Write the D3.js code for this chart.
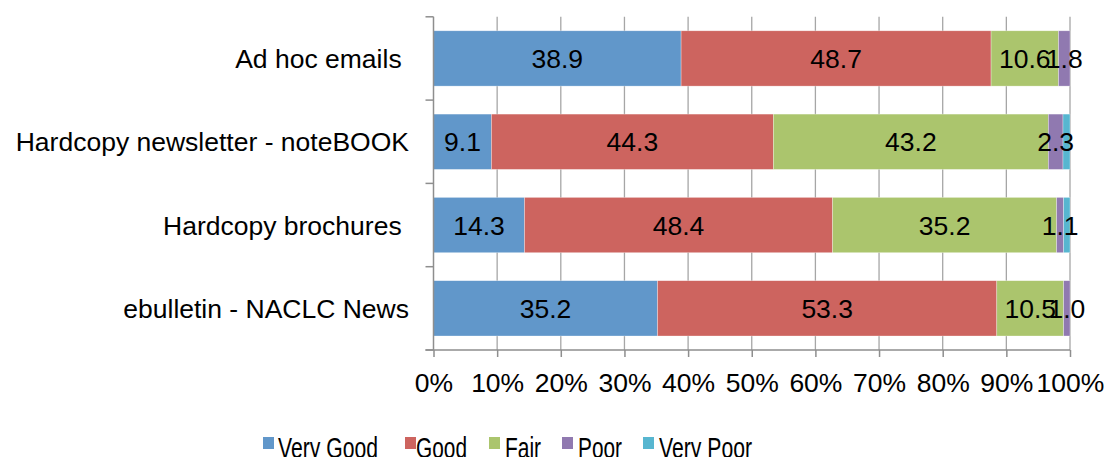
<!DOCTYPE html>
<html>
<head>
<meta charset="utf-8">
<script src="https://cdn.jsdelivr.net/npm/d3@7"></script>
<style>
  html, body { margin: 0; padding: 0; background: #fff; }
  svg { display: block; font-family: "Liberation Sans", Arial, sans-serif; }
  .cat { white-space: pre; }
</style>
</head>
<body>
<svg id="chart" width="1105" height="457"></svg>
<script>
// Rating of communication channels (percent of respondents)
const categories = [
  "Ad hoc emails ",
  "Hardcopy newsletter - noteBOOK",
  "Hardcopy brochures ",
  "ebulletin - NACLC News"
];
const seriesNames = ["Very Good", "Good", "Fair", "Poor", "Very Poor"];
const veryGood = [38.9, 9.1, 14.3, 35.2];
const good     = [48.7, 44.3, 48.4, 53.3];
const fair     = [10.6, 43.2, 35.2, 10.5];
const poor     = [1.8, 2.3, 1.1, 1.0];
const veryPoor = [0, 1.1, 1.0, 0];
const xTicks = [0, 10, 20, 30, 40, 50, 60, 70, 80, 90, 100];
// data labels are printed for every series except the last
const labelled = [true, true, true, true, false];

const colors = ["#6197ca", "#cd645f", "#abc56d", "#9079b0", "#57b6d0"];

const rows = categories.map((c, i) => ({
  category: c,
  "Very Good": veryGood[i],
  "Good": good[i],
  "Fair": fair[i],
  "Poor": poor[i],
  "Very Poor": veryPoor[i]
}));

const svg = d3.select("#chart");
const plot = { left: 433.5, right: 1070, top: 16.8, bottom: 350 };
const fontSize = 26.5;

const x = d3.scaleLinear().domain([0, 100]).range([plot.left, plot.right]);
const y = d3.scaleBand()
  .domain(categories)
  .range([plot.top, plot.bottom])
  .paddingInner(0.336)
  .paddingOuter(0.168);

const axisColor = "#8e8e8e";

// vertical gridlines
svg.append("g")
  .selectAll("line")
  .data(xTicks.slice(1))
  .join("line")
  .attr("x1", d => x(d)).attr("x2", d => x(d))
  .attr("y1", plot.top).attr("y2", plot.bottom)
  .attr("stroke", "#a6a6a6")
  .attr("stroke-width", 1.3);

const stacked = d3.stack().keys(seriesNames)(rows);

const layers = svg.append("g")
  .selectAll("g")
  .data(stacked)
  .join("g")
  .attr("fill", (d, i) => colors[i]);

layers.selectAll("rect")
  .data(d => d)
  .join("rect")
  .attr("x", d => x(d[0]))
  .attr("width", d => x(d[1]) - x(d[0]))
  .attr("y", d => y(d.data.category))
  .attr("height", y.bandwidth())
  .attr("stroke", "#ffffff")
  .attr("stroke-opacity", 0.5)
  .attr("stroke-width", 0.6);

// value labels
const labelLayers = svg.append("g")
  .selectAll("g")
  .data(stacked.filter((s, i) => labelled[i]))
  .join("g");

labelLayers.selectAll("text")
  .data(s => s.map(d => ({ d, v: d[1] - d[0] })).filter(o => o.v > 0))
  .join("text")
  .attr("x", o => x((o.d[0] + o.d[1]) / 2))
  .attr("y", o => y(o.d.data.category) + y.bandwidth() / 2)
  .attr("dy", "0.36em")
  .attr("text-anchor", "middle")
  .attr("font-size", fontSize)
  .attr("fill", "#000")
  .text(o => o.v.toFixed(1));

// category axis
const yAxis = svg.append("g");
yAxis.append("line")
  .attr("x1", plot.left).attr("x2", plot.left)
  .attr("y1", plot.top).attr("y2", plot.bottom)
  .attr("stroke", axisColor).attr("stroke-width", 1.5);
const bounds = categories.map(c => y(c) - y.step() * y.paddingInner() / 2)
  .concat([plot.bottom]);
yAxis.selectAll("line.tick")
  .data(bounds)
  .join("line")
  .attr("class", "tick")
  .attr("x1", plot.left - 8).attr("x2", plot.left)
  .attr("y1", d => d).attr("y2", d => d)
  .attr("stroke", axisColor).attr("stroke-width", 1.5);
yAxis.selectAll("text")
  .data(categories)
  .join("text")
  .attr("class", "cat")
  .attr("x", 409)
  .attr("y", d => y(d) + y.bandwidth() / 2)
  .attr("dy", "0.36em")
  .attr("text-anchor", "end")
  .attr("font-size", fontSize)
  .attr("fill", "#000")
  .text(d => d);

// percentage axis
const xAxis = svg.append("g")
  .attr("transform", `translate(0,${plot.bottom})`)
  .call(d3.axisBottom(x)
    .tickValues(xTicks)
    .tickFormat(d => d + "%")
    .tickSize(7)
    .tickPadding(16)
    .tickSizeOuter(0));
xAxis.select(".domain").remove();
xAxis.append("line")
  .attr("x1", plot.left - 8).attr("x2", plot.right)
  .attr("y1", 0).attr("y2", 0)
  .attr("stroke", axisColor).attr("stroke-width", 1.5);
xAxis.selectAll(".tick line").attr("stroke", axisColor).attr("stroke-width", 1.5);
xAxis.selectAll(".tick text")
  .attr("font-size", fontSize)
  .attr("font-family", "'Liberation Sans', Arial, sans-serif")
  .attr("fill", "#000");

// legend
const legendItems = [
  { name: "Very Good", sx: 263, tx: 278, tw: 100 },
  { name: "Good", sx: 405, tx: 416, tw: 51 },
  { name: "Fair", sx: 489, tx: 505, tw: 36 },
  { name: "Poor", sx: 562, tx: 578, tw: 44 },
  { name: "Very Poor", sx: 643, tx: 659, tw: 93 }
];
const legend = svg.append("g")
  .selectAll("g")
  .data(legendItems)
  .join("g");
legend.append("rect")
  .attr("x", d => d.sx)
  .attr("y", 437)
  .attr("width", 11)
  .attr("height", 12)
  .attr("fill", (d, i) => colors[seriesNames.indexOf(d.name)]);
legend.append("text")
  .attr("x", d => d.tx)
  .attr("y", 458)
  .attr("font-size", 29)
  .attr("textLength", d => d.tw)
  .attr("lengthAdjust", "spacingAndGlyphs")
  .attr("fill", "#000")
  .text(d => d.name);
</script>
</body>
</html>
